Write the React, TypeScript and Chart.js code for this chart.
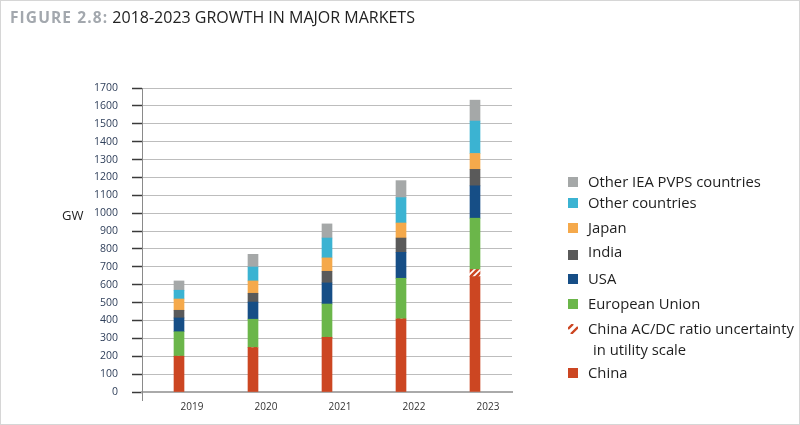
import React, { useEffect, useRef } from "react";
import { Chart, registerables } from "chart.js";
Chart.register(...registerables);

const years = ["2019", "2020", "2021", "2022", "2023"];
const china = [200, 248, 306, 408, 645];
const chinaAcDc = [0, 0, 0, 0, 40];
const europeanUnion = [137, 159, 186, 228, 287];
const usa = [77, 96, 118, 145, 181];
const india = [43, 49, 65, 80, 92];
const japan = [63, 69, 75, 84, 89];
const otherCountries = [49, 78, 111, 142, 181];
const otherIeaPvps = [52, 71, 79, 95, 117];
const yMax = 1700;
const yStep = 100;

const titleBold = "FIGURE 2.8:";
const titleRest = " 2018-2023 GROWTH IN MAJOR MARKETS";
const yUnit = "GW";

const RED = "#CC4622";

function makeHatch(): CanvasPattern | string {
  const c = document.createElement("canvas");
  c.width = 6;
  c.height = 6;
  const g = c.getContext("2d");
  if (!g) return RED;
  g.fillStyle = RED;
  g.fillRect(0, 0, 6, 6);
  g.strokeStyle = "#ffffff";
  g.lineWidth = 1.6;
  g.beginPath();
  g.moveTo(-1, 7);
  g.lineTo(7, -1);
  g.moveTo(-4, 4);
  g.lineTo(4, -4);
  g.moveTo(2, 10);
  g.lineTo(10, 2);
  g.stroke();
  const p = g.createPattern(c, "repeat");
  return p || RED;
}

type Series = { label: string; data: number[]; color: string; hatch?: boolean };

const series: Series[] = [
  { label: "China", data: china, color: RED },
  { label: "China AC/DC ratio uncertainty in utility scale", data: chinaAcDc, color: RED, hatch: true },
  { label: "European Union", data: europeanUnion, color: "#6BB64A" },
  { label: "USA", data: usa, color: "#164E86" },
  { label: "India", data: india, color: "#5A5A5A" },
  { label: "Japan", data: japan, color: "#F5A94B" },
  { label: "Other countries", data: otherCountries, color: "#3BB3D2" },
  { label: "Other IEA PVPS countries", data: otherIeaPvps, color: "#A5A8A8" },
];

const legendTops = [181, 202, 227, 251, 278, 303, 328, 372];

export default function App() {
  const ref = useRef<HTMLCanvasElement | null>(null);
  const hatchIconRef = useRef<HTMLCanvasElement | null>(null);

  useEffect(() => {
    if (!ref.current) return;
    const hatch = makeHatch();
    const chart = new Chart(ref.current, {
      type: "bar",
      data: {
        labels: years,
        datasets: series.map((s) => ({
          label: s.label,
          data: s.data,
          backgroundColor: s.hatch ? (hatch as any) : s.color,
          borderWidth: 0,
          barThickness: 10,
        })),
      },
      options: {
        responsive: false,
        animation: false,
        layout: { padding: { left: 0, right: 288, top: 88, bottom: 0 } },
        plugins: { legend: { display: false }, tooltip: { enabled: false } },
        scales: {
          x: {
            stacked: true,
            afterFit: (s: any) => {
              s.height = 33;
            },
            grid: { display: false, drawTicks: false },
            border: { display: true, color: "#AAAAAA", width: 2 },
            ticks: {
              color: "#333333",
              font: { family: "Open Sans", size: 10 },
              labelOffset: 13,
              padding: 9,
            },
          },
          y: {
            stacked: true,
            min: 0,
            max: yMax,
            afterFit: (s: any) => {
              s.width = 142;
            },
            border: { display: true, color: "#8A8A8A", width: 1 },
            grid: {
              color: "#BDBDBD",
              lineWidth: 1,
              borderDash: [4, 2],
              tickLength: 10,
              tickColor: "#3A3A3A",
              tickWidth: 1.5,
              tickBorderDash: [],
            } as any,
            ticks: {
              stepSize: yStep,
              color: "#2F3F5A",
              font: { family: "Open Sans", size: 10.5 },
              padding: 14,
              callback: (v: any) => String(v),
            },
          },
        },
      },
      plugins: [
        {
          id: "extras",
          afterDraw(c: any) {
            const ctx = c.ctx;
            const a = c.chartArea;
            ctx.save();
            ctx.strokeStyle = "#8A8A8A";
            ctx.lineWidth = 1;
            ctx.beginPath();
            ctx.moveTo(a.left + 0.5, a.bottom);
            ctx.lineTo(a.left + 0.5, a.bottom + 9);
            ctx.stroke();
            ctx.fillStyle = "#222222";
            ctx.font = "13px 'Open Sans'";
            ctx.textBaseline = "middle";
            ctx.textAlign = "left";
            ctx.fillText(yUnit, 62, 216);
            ctx.restore();
          },
        },
      ],
    });
    const hc = hatchIconRef.current;
    if (hc) {
      const g = hc.getContext("2d");
      if (g) {
        g.fillStyle = "#ffffff";
        g.fillRect(0, 0, 10, 10);
        g.strokeStyle = RED;
        g.lineWidth = 2.4;
        g.beginPath();
        g.moveTo(0, 5);
        g.lineTo(5, 0);
        g.moveTo(3, 10);
        g.lineTo(10, 3);
        g.stroke();
      }
    }
    return () => chart.destroy();
  }, []);

  const legendItems = series.map((s, i) => ({ s, i })).reverse();

  return (
    <div
      style={{
        position: "absolute",
        left: 0,
        top: 0,
        width: 800,
        height: 425,
        boxSizing: "border-box",
        border: "1px solid #D6D6D6",
        background: "#ffffff",
        overflow: "hidden",
        fontFamily: "'Open Sans', sans-serif",
      }}
    >
      <canvas
        ref={ref}
        width={800}
        height={425}
        style={{ position: "absolute", left: -1, top: -1, width: 800, height: 425 }}
      />
      <div
        style={{
          position: "absolute",
          left: 9,
          top: 6,
          fontSize: 16,
          lineHeight: "20px",
          whiteSpace: "nowrap",
          color: "#222",
        }}
      >
        <span style={{ color: "#A3A8AE", fontWeight: 700, letterSpacing: 1.1, fontSize: 15.5 }}>{titleBold}</span>
        <span>{titleRest}</span>
      </div>
      {legendItems.map(({ s }, k) => {
        const top = legendTops[k];
        const twoLine = s.hatch;
        return (
          <div key={s.label} style={{ position: "absolute", left: 566, top: top - 10, height: 20 }}>
            {twoLine ? (
              <canvas
                ref={hatchIconRef}
                width={10}
                height={10}
                style={{ position: "absolute", left: 1, top: 5, width: 10, height: 10 }}
              />
            ) : (
              <div
                style={{
                  position: "absolute",
                  left: 1,
                  top: s.label === "India" ? 8 : 5,
                  width: 10,
                  height: 10,
                  background: s.color,
                }}
              />
            )}
            <div
              style={{
                position: "absolute",
                left: 21,
                top: -1,
                fontSize: 14.8,
                lineHeight: "21px",
                color: "#1E1E1E",
                whiteSpace: "nowrap",
              }}
            >
              {twoLine ? (
                <>
                  China AC/DC ratio uncertainty
                  <br />
                  <span style={{ paddingLeft: 5 }}>in utility scale</span>
                </>
              ) : (
                s.label
              )}
            </div>
          </div>
        );
      })}
    </div>
  );
}
